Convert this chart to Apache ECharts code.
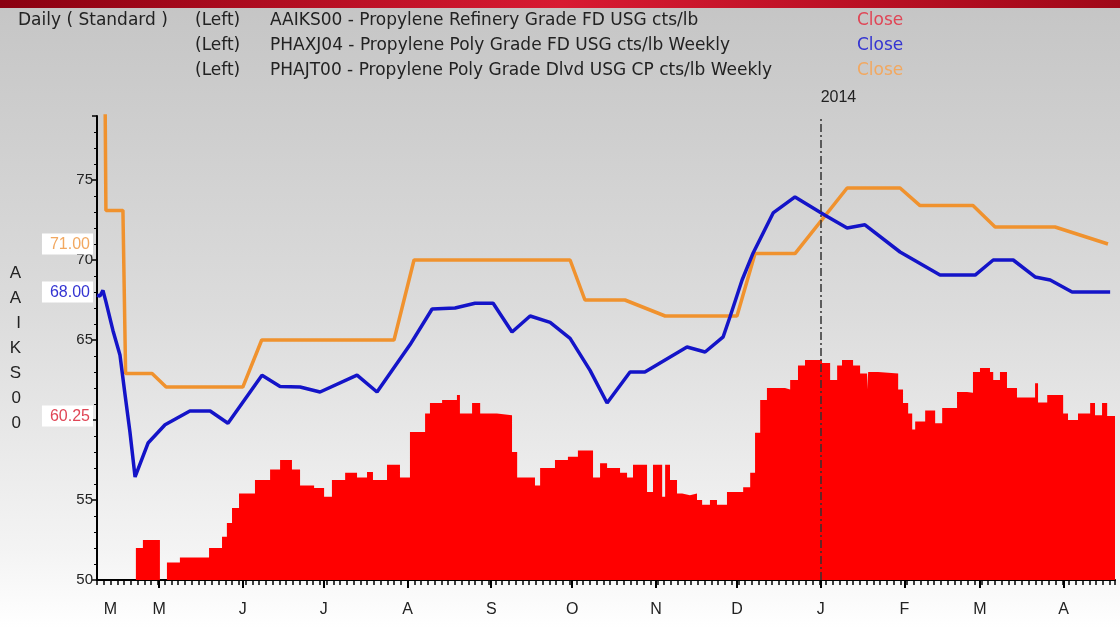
<!DOCTYPE html>
<html>
<head>
<meta charset="utf-8">
<script src="https://cdn.jsdelivr.net/npm/echarts@6/dist/echarts.min.js"></script>
<style>
  html, body { margin: 0; padding: 0; }
  #chart { width: 1120px; height: 628px; }
</style>
</head>
<body>
<div id="chart"></div>
<script>
  // x values are days counted from 2013-04-08
  var axisEnd = 377
  var yearDay = 268
  var monthDays = [5, 23, 54, 84, 115, 146, 176, 207, 237, 268, 299, 327, 358]
  var monthLabels = ['M', 'M', 'J', 'J', 'A', 'S', 'O', 'N', 'D', 'J', 'F', 'M', 'A']

  // AAIKS00 daily close (each value holds until the next day listed)
  var redDays = [14.4, 17.0, 23.3, 25.9, 30.7, 41.5, 46.3, 48.1, 50.0, 52.6, 58.5, 64.1, 67.8, 72.2, 75.2,
    80.4, 84.1, 87.0, 91.9, 96.3, 100.0, 102.2, 107.4, 112.2, 115.9, 121.5, 123.3, 127.8, 133.3, 134.4,
    138.9, 141.9, 148.1, 153.7, 155.6, 162.2, 164.1, 169.6, 174.4, 178.1, 183.7, 186.3, 188.9, 193.7, 196.3,
    198.5, 203.7, 205.9, 209.3, 210.4, 212.2, 214.8, 216.7, 219.6, 222.2, 224.1, 227.0, 229.6, 233.3, 239.3,
    241.9, 243.7, 245.6, 248.1, 254.8, 256.7, 259.6, 262.2, 268.5, 271.5, 274.1, 275.9, 280.0, 282.6, 285.2,
    285.6, 289.3, 296.7, 298.5, 300.4, 301.9, 303.0, 306.7, 310.4, 313.0, 318.5, 322.2, 324.4, 327.0, 330.7,
    331.9, 334.4, 337.0, 340.7, 347.4, 348.5, 351.9, 357.8, 359.6, 363.3, 367.8, 369.6, 372.2, 374.1]
  var redVals = [52.0, 52.5, null, 51.1, 51.4, 52.0, 52.7, 53.56, 54.5, 55.4, 56.25, 56.9, 57.5, 56.9, 55.9,
    55.75, 55.2, 56.25, 56.7, 56.4, 56.75, 56.25, 57.2, 56.4, 59.25, 60.4, 61.06, 61.25, 61.56, 60.4,
    61.06, 60.4, 60.3, 58.0, 56.4, 55.9, 57.0, 57.5, 57.7, 58.1, 56.4, 57.3, 57.0, 56.7, 56.4,
    57.2, 55.5, 57.2, 55.2, 57.2, 56.25, 55.4, 55.3, 55.4, 55.0, 54.7, 55.0, 54.7, 55.5, 55.8,
    56.7, 59.2, 61.25, 62.0, 61.9, 62.5, 63.4, 63.75, 63.56, 62.5, 63.4, 63.75, 63.4, 62.9, 61.9,
    63.0, 62.9, 61.9, 61.06, 60.4, 59.4, 59.9, 60.6, 59.8, 60.75, 61.75, 61.7, 63.0, 63.25, 63.0,
    62.5, 63.0, 62.0, 61.4, 62.3, 61.1, 61.56, 60.4, 60.0, 60.4, 61.06, 60.3, 61.06, 60.25]

  // PHAXJ04 weekly
  var blueDays = [0, 1.1, 2.2, 3.3, 5.9, 8.5, 10.4, 12.2, 14.1, 18.9, 25.2, 34.4, 41.9, 48.5, 61.1,
    67.8, 75.2, 82.6, 96.3, 103.7, 115.9, 124.1, 132.6, 140.0, 146.7, 153.7, 160.4, 167.8, 175.2, 182.6,
    188.9, 197.4, 202.9, 218.5, 225.2, 231.9, 234.4, 238.9, 243.0, 250.4, 258.5, 269.6, 277.8, 284.4, 297.4,
    312.2, 325.2, 331.9, 339.3, 347.4, 353.0, 361.1, 375.2]
  var blueVals = [67.8, 67.75, 68.1, 67.4, 65.6, 64.06, 61.56, 59.25, 56.44, 58.56, 59.7, 60.56, 60.56, 59.8, 62.8,
    62.1, 62.06, 61.75, 62.8, 61.75, 64.7, 66.94, 67.0, 67.3, 67.3, 65.5, 66.5, 66.1, 65.1, 63.1,
    61.06, 63.0, 63.0, 64.56, 64.25, 65.2, 66.44, 68.75, 70.44, 72.94, 73.94, 72.8, 72.0, 72.2, 70.5,
    69.06, 69.06, 70.0, 70.0, 68.94, 68.75, 68.0, 68.0]

  // PHAJT00 weekly
  var orangeDays = [0, 3.0, 3.3, 9.6, 10.6, 20.4, 25.6, 54.0, 61.0, 110.0, 117.4, 175.2, 180.7, 195.5, 210.4,
    237.0, 243.7, 258.5, 277.8, 297.4, 304.8, 324.4, 332.6, 354.8, 374.4]
  var orangeVals = [80, 80, 73.1, 73.1, 62.9, 62.9, 62.06, 62.06, 65, 65, 70, 70, 67.5, 67.5, 66.5,
    66.5, 70.4, 70.4, 74.5, 74.5, 73.4, 73.4, 72.06, 72.06, 71.0]

  var lastVals = [60.25, 68.00, 71.00]
  var seriesColors = ['#ff0000', '#1414c8', '#f0922e']
  var closeColors = ['#e04656', '#3434d2', '#f2a860']
  var seriesNames = ['AAIKS00 - Propylene Refinery Grade FD USG cts/lb',
    'PHAXJ04 - Propylene Poly Grade FD USG cts/lb Weekly',
    'PHAJT00 - Propylene Poly Grade Dlvd USG CP cts/lb Weekly']

  var font = '"Liberation Sans", Arial, sans-serif'
  var headFont = '17px "DejaVu Sans", sans-serif'

  function pairs(ds, vs) {
    return ds.map(function (d, i) { return [d, vs[i]] })
  }
  // turn daily closes into step points, breaking where a day is missing
  function stepData(ds, vs, end) {
    var out = []
    for (var i = 0; i < ds.length; i++) {
      if (vs[i] == null) { out.push([ds[i], '-']); continue }
      out.push([ds[i], vs[i]])
      var last = i + 1 >= ds.length
      if (last || vs[i + 1] == null) out.push([last ? end : ds[i + 1], vs[i]])
    }
    return out
  }

  function headText(left, top, text, color) {
    return { type: 'text', left: left, top: top, style: { text: text, font: headFont, fill: color } }
  }

  var header = [headText(18, 12, 'Daily ( Standard )', '#222')]
  seriesNames.forEach(function (n, i) {
    var top = 12 + i * 25
    header.push(headText(195, top, '(Left)', '#222'))
    header.push(headText(270, top, n, '#222'))
    header.push(headText(857, top, 'Close', closeColors[i]))
  })
  header.push({
    type: 'rect', left: 0, top: 0, shape: { width: 1120, height: 8 },
    style: { fill: new echarts.graphic.LinearGradient(0, 0, 1, 0, [
      { offset: 0, color: '#8a0010' }, { offset: 0.5, color: '#d81a32' }, { offset: 1, color: '#a00818' }]) }
  })

  var chart = echarts.init(document.getElementById('chart'))
  chart.setOption({
    animation: false,
    backgroundColor: new echarts.graphic.LinearGradient(0, 0, 0, 1, [
      { offset: 0, color: '#c5c5c5' }, { offset: 0.5, color: '#dcdcdc' },
      { offset: 0.88, color: '#f4f4f4' }, { offset: 1, color: '#ffffff' }]),
    graphic: header,
    grid: { left: 97, right: 5, top: 116, bottom: 48 },
    xAxis: [{
      type: 'value', min: 0, max: axisEnd,
      axisLine: { lineStyle: { color: '#000', width: 2 } },
      axisTick: { customValues: monthDays.slice(1), length: 8, lineStyle: { color: '#000', width: 2 } },
      axisLabel: {
        customValues: monthDays, margin: 22, fontSize: 16, color: '#222', fontFamily: font,
        formatter: function (v) { return monthLabels[monthDays.indexOf(v)] }
      },
      splitLine: { show: false }
    }, {
      type: 'value', min: 0, max: axisEnd, interval: 2.5, position: 'bottom',
      axisLine: { show: false },
      axisTick: { length: 5, lineStyle: { color: '#000', width: 1.5 } },
      axisLabel: { show: false },
      splitLine: { show: false }
    }],
    yAxis: [{
      type: 'value', min: 50, max: 79, interval: 5,
      name: 'AAIKS00'.split('').join('\n'),
      nameLocation: 'middle', nameRotate: 0, nameGap: 76,
      nameTextStyle: { fontSize: 17, lineHeight: 25, color: '#222', fontFamily: font },
      axisLine: { show: true, lineStyle: { color: '#000', width: 2 } },
      axisTick: { length: 5, lineStyle: { color: '#000', width: 1.5 } },
      minorTick: { show: true, splitNumber: 5, length: 3, lineStyle: { color: '#000' } },
      axisLabel: { fontSize: 15, color: '#222', margin: 4, fontFamily: font, showMaxLabel: false },
      splitLine: { show: false }
    }, {
      type: 'value', min: 50, max: 79, position: 'left', offset: 0,
      axisLine: { show: false }, axisTick: { show: false }, splitLine: { show: false },
      axisLabel: {
        customValues: lastVals, margin: 4, fontFamily: font,
        formatter: function (v) { var i = lastVals.indexOf(v); return '{s' + i + '|' + v.toFixed(2) + '}' },
        rich: {
          s0: { color: closeColors[0], backgroundColor: '#fff', padding: [3, 3, 2, 8], fontSize: 16 },
          s1: { color: closeColors[1], backgroundColor: '#fff', padding: [3, 3, 2, 8], fontSize: 16 },
          s2: { color: closeColors[2], backgroundColor: '#fff', padding: [3, 3, 2, 8], fontSize: 16 }
        }
      }
    }],
    series: [{
      name: 'AAIKS00', type: 'line', step: 'end', symbol: 'none',
      data: stepData(redDays, redVals, axisEnd),
      lineStyle: { width: 0, opacity: 0 },
      areaStyle: { color: seriesColors[0], opacity: 1, origin: 'start' },
      z: 1
    }, {
      name: 'PHAJT00', type: 'line', symbol: 'none',
      data: pairs(orangeDays, orangeVals),
      lineStyle: { color: seriesColors[2], width: 3.5 },
      z: 3
    }, {
      name: 'PHAXJ04', type: 'line', symbol: 'none',
      data: pairs(blueDays, blueVals),
      lineStyle: { color: seriesColors[1], width: 3.5 },
      z: 4,
      markLine: {
        silent: true, symbol: 'none',
        data: [{ xAxis: yearDay }],
        lineStyle: { color: '#333', width: 1.5, type: [8, 3, 2, 3] },
        label: { formatter: '2014', position: 'end', align: 'left', fontSize: 16, color: '#222', fontFamily: font, distance: 10 }
      }
    }]
  })
</script>
</body>
</html>
